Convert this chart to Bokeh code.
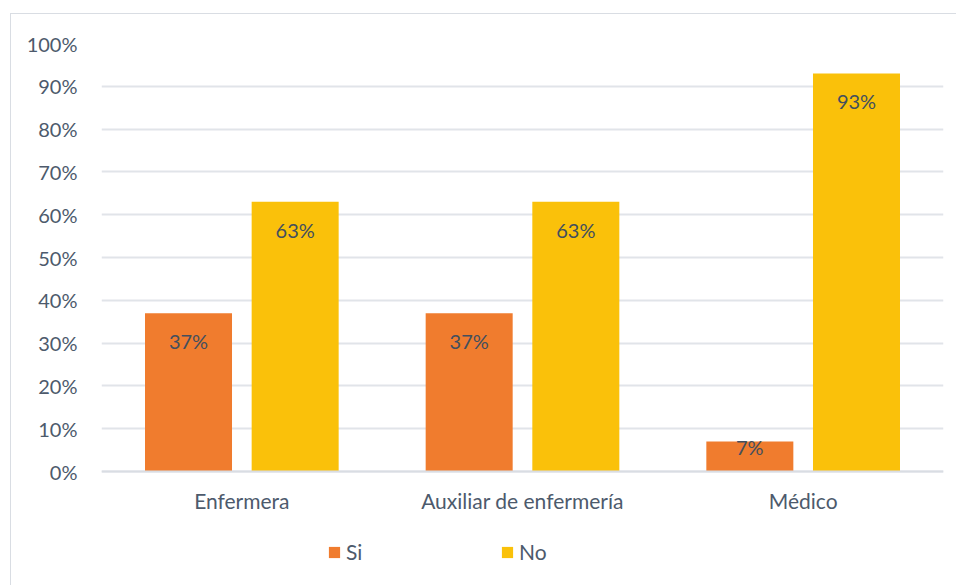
from bokeh.plotting import figure
from bokeh.models import ColumnDataSource, FactorRange, Legend, LegendItem, NumeralTickFormatter, LabelSet, FixedTicker
from bokeh.core.properties import value
from bokeh.transform import dodge
from bokeh.embed import file_html
from bokeh.resources import INLINE

categories = ["Enfermera", "Auxiliar de enfermería", "Médico"]
si_values = [0.37, 0.37, 0.07]
no_values = [0.63, 0.63, 0.93]
series_names = ["Si", "No"]
y_ticks = [0, 0.1, 0.2, 0.3, 0.4, 0.5, 0.6, 0.7, 0.8, 0.9, 1.0]

FONT = "Lato"
TXT = "#4d5a6c"

def lbl_off(vals):
    return [-28 if v > 0.15 else -5 for v in vals]

src = ColumnDataSource(dict(
    cat=categories, si=si_values, no=no_values,
    si_lbl=[f"{round(v*100)}%" for v in si_values],
    no_lbl=[f"{round(v*100)}%" for v in no_values],
    si_off=lbl_off(si_values), no_off=lbl_off(no_values),
))

p = figure(x_range=FactorRange(*categories), y_range=(-0.25, 1.0),
           width=946, height=572, output_backend="svg", toolbar_location=None,
           min_border_left=90, min_border_right=14, min_border_top=29, min_border_bottom=8)

r_si = p.vbar(x=dodge("cat", -0.19, range=p.x_range), top="si", width=0.31, source=src,
              fill_color="#F07C2E", line_color=None)
r_no = p.vbar(x=dodge("cat", 0.19, range=p.x_range), top="no", width=0.31, source=src,
              fill_color="#FAC10A", line_color=None)

for col, lbl, off in (("si", "si_lbl", -0.19), ("no", "no_lbl", 0.19)):
    p.add_layout(LabelSet(x=dodge("cat", off, range=p.x_range), y=col, text=lbl, source=src,
                          text_align="center", text_baseline="middle", y_offset=col + "_off",
                          text_font=value(FONT), text_font_size="20px", text_color="#434f5e"))

p.yaxis.ticker = FixedTicker(ticks=y_ticks)
p.yaxis.formatter = NumeralTickFormatter(format="0%")
for ax in (p.xaxis, p.yaxis):
    ax.axis_line_color = None
    ax.major_tick_line_color = None
    ax.minor_tick_line_color = None
    ax.major_label_text_font = FONT
    ax.major_label_text_color = TXT
p.yaxis.major_label_text_font_size = "20px"
p.xaxis.major_label_text_font_size = "21px"
p.xaxis.fixed_location = 0
p.xaxis.axis_line_color = "#D9DDE3"
p.xaxis.axis_line_width = 2
p.xaxis.major_label_standoff = 10
p.yaxis.major_label_standoff = 18
p.xgrid.grid_line_color = None
p.ygrid.grid_line_color = "#E1E4E9"
p.ygrid.grid_line_width = 2
p.outline_line_color = None
p.border_fill_color = "white"
p.styles = {"border-left": "1px solid #D9DDE3", "border-top": "1px solid #D9DDE3",
            "margin-left": "10px", "margin-top": "13px"}

legend = Legend(items=[LegendItem(label=series_names[0], renderers=[r_si]),
                       LegendItem(label=series_names[1], renderers=[r_no])],
                orientation="horizontal", location=(226, 14),
                label_text_font=FONT, label_text_font_size="21px", label_text_color=TXT,
                glyph_width=14, glyph_height=14, label_standoff=5, spacing=134,
                border_line_color=None, background_fill_alpha=0, padding=0, margin=0)
p.add_layout(legend, "center")

open("out.html", "w").write(file_html(p, INLINE))
